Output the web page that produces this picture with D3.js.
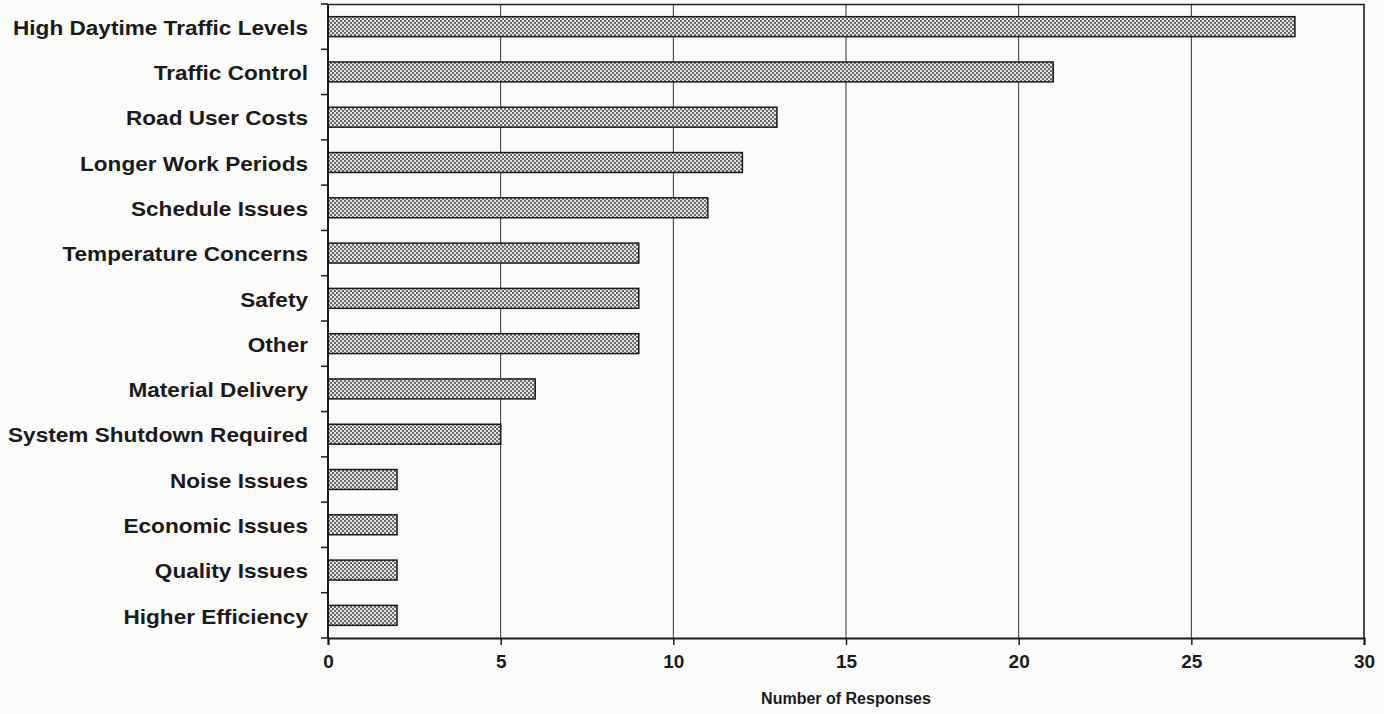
<!DOCTYPE html>
<html>
<head>
<meta charset="utf-8">
<script src="https://cdn.jsdelivr.net/npm/d3@7"></script>
<style>
  html, body { margin: 0; padding: 0; background: #fbfbfa; }
  svg { display: block; }
</style>
</head>
<body>
<svg id="chart" width="1384" height="714"></svg>
<script>
// Reasons given for night work, number of responses
const categories = [
  "High Daytime Traffic Levels",
  "Traffic Control",
  "Road User Costs",
  "Longer Work Periods",
  "Schedule Issues",
  "Temperature Concerns",
  "Safety",
  "Other",
  "Material Delivery",
  "System Shutdown Required",
  "Noise Issues",
  "Economic Issues",
  "Quality Issues",
  "Higher Efficiency"
];
const responses = [28, 21, 13, 12, 11, 9, 9, 9, 6, 5, 2, 2, 2, 2];
const xTicks = [0, 5, 10, 15, 20, 25, 30];
const xTitle = "Number of Responses";

const svg = d3.select("#chart");
const margin = { top: 4, right: 20, bottom: 76, left: 328 };
const width = 1384 - margin.left - margin.right;
const height = 714 - margin.top - margin.bottom;
const fontStack = "'Liberation Sans', Arial, sans-serif";

// Fine dithered grey fill for the bars
const defs = svg.append("defs");
const pat = defs.append("pattern")
  .attr("id", "dither")
  .attr("patternUnits", "userSpaceOnUse")
  .attr("width", 4).attr("height", 4);
pat.append("rect").attr("width", 4).attr("height", 4).attr("fill", "#e2e2e2");
pat.append("rect").attr("x", 0).attr("y", 0).attr("width", 2).attr("height", 2).attr("fill", "#6a6a6a");
pat.append("rect").attr("x", 2).attr("y", 2).attr("width", 2).attr("height", 2).attr("fill", "#6a6a6a");

const g = svg.append("g").attr("transform", `translate(${margin.left},${margin.top})`);

const x = d3.scaleLinear().domain([0, 30]).range([0, width]);
const y = d3.scaleBand().domain(categories).range([0, height]).paddingInner(0.56).paddingOuter(0.28);

// Vertical gridlines
g.append("g")
  .selectAll("line")
  .data(xTicks.slice(1, -1))
  .join("line")
  .attr("x1", d => x(d)).attr("x2", d => x(d))
  .attr("y1", 0).attr("y2", height)
  .attr("stroke", "#333").attr("stroke-width", 1);

// Plot frame (top and right edges)
g.append("path")
  .attr("d", `M0,0.5H${width}V${height}`)
  .attr("fill", "none").attr("stroke", "#222").attr("stroke-width", 1.6);

// Bars
g.append("g")
  .selectAll("rect")
  .data(categories)
  .join("rect")
  .attr("x", x(0))
  .attr("y", d => y(d))
  .attr("width", (d, i) => x(responses[i]) - x(0))
  .attr("height", y.bandwidth())
  .attr("fill", "url(#dither)")
  .attr("stroke", "#1a1a1a").attr("stroke-width", 1.5);

// X axis
const xAxis = g.append("g")
  .attr("transform", `translate(0,${height})`)
  .call(d3.axisBottom(x).tickValues(xTicks).tickSize(7).tickPadding(10).tickFormat(d3.format("d")));
xAxis.select(".domain").attr("stroke", "#1a1a1a").attr("stroke-width", 2);
xAxis.selectAll(".tick line").attr("stroke", "#1a1a1a").attr("stroke-width", 1.5);
xAxis.selectAll("text")
  .attr("fill", "#1a1a1a")
  .style("font-family", fontStack)
  .style("font-weight", "bold")
  .style("font-size", "19px");

// Y axis: ticks at the category boundaries, labels centred on each bar
const bounds = d3.range(categories.length + 1).map(i => i * height / categories.length);
const yAxis = g.append("g");
yAxis.append("line")
  .attr("x1", 0).attr("x2", 0).attr("y1", 0).attr("y2", height)
  .attr("stroke", "#1a1a1a").attr("stroke-width", 2);
yAxis.selectAll("line.tk")
  .data(bounds)
  .join("line")
  .attr("class", "tk")
  .attr("x1", -7).attr("x2", 0)
  .attr("y1", d => d).attr("y2", d => d)
  .attr("stroke", "#1a1a1a").attr("stroke-width", 1.5);
yAxis.selectAll("text")
  .data(categories)
  .join("text")
  .attr("transform", d => `translate(-20,${y(d) + y.bandwidth() / 2 + 1}) scale(1.13,1)`)
  .attr("dy", "0.36em")
  .attr("text-anchor", "end")
  .attr("fill", "#1a1a1a")
  .style("font-family", fontStack)
  .style("font-weight", "bold")
  .style("font-size", "20px")
  .text(d => d);

// Axis title
g.append("text")
  .attr("x", width / 2)
  .attr("y", height + 66)
  .attr("text-anchor", "middle")
  .attr("fill", "#1a1a1a")
  .style("font-family", fontStack)
  .style("font-weight", "bold")
  .style("font-size", "16px")
  .text(xTitle);
</script>
</body>
</html>
